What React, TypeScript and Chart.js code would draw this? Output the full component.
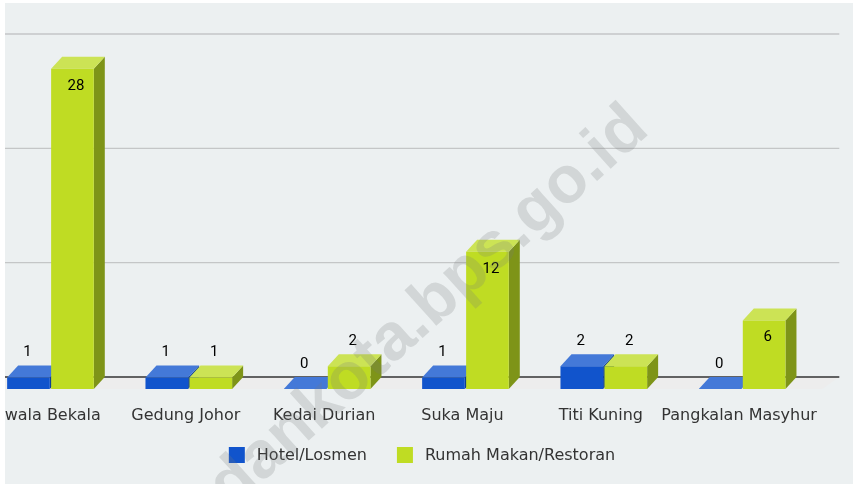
import React, { useEffect, useRef } from "react";
import { Chart, registerables } from "chart.js";

Chart.register(...registerables);

// ---- data ----
const CATEGORIES = [
  "Kwala Bekala",
  "Gedung Johor",
  "Kedai Durian",
  "Suka Maju",
  "Titi Kuning",
  "Pangkalan Masyhur",
];
const SERIES_NAMES = ["Hotel/Losmen", "Rumah Makan/Restoran"];
const HOTEL_LOSMEN = [1, 1, 0, 1, 2, 0];
const RUMAH_MAKAN = [28, 1, 2, 12, 2, 6];
const Y_TICKS = [0, 10, 20, 30];
const WATERMARK = "medankota.bps.go.id";

// ---- style ----
const FACE_COLORS = [
  { front: "#1154cc", top: "#4479d8", side: "#0c3d94" },
  { front: "#bfdc23", top: "#cce355", side: "#7e9418" },
];
const DX = 11; // depth offset x
const DY = -12; // depth offset y
const CANVAS_W = 898;
const CANVAS_H = 485;
const INSIDE_MIN = 5; // labels of taller bars sit inside the bar

const threeD = {
  id: "threeD",
  beforeDatasetsDraw(chart: any) {
    const { ctx, chartArea, scales } = chart;
    const y = scales.y;
    const base = y.getPixelForValue(0);
    ctx.save();
    // floor
    ctx.fillStyle = "#ededed";
    ctx.beginPath();
    ctx.moveTo(0, base);
    ctx.lineTo(chartArea.right + DX, base);
    ctx.lineTo(chartArea.right + DX + 17, base + DY);
    ctx.lineTo(0, base + DY);
    ctx.closePath();
    ctx.fill();
    // grid lines on back wall
    ctx.strokeStyle = "#c4c6c7";
    ctx.lineWidth = 1.4;
    Y_TICKS.forEach((t) => {
      if (t === 0) return;
      const py = y.getPixelForValue(t) + DY;
      ctx.beginPath();
      ctx.moveTo(0, py);
      ctx.lineTo(chartArea.right + DX + 17, py);
      ctx.stroke();
    });
    // base line
    ctx.strokeStyle = "#333333";
    ctx.lineWidth = 1.3;
    ctx.beginPath();
    ctx.moveTo(0, base + DY);
    ctx.lineTo(chartArea.right + DX + 17, base + DY);
    ctx.stroke();

    // side and top faces
    const metas = chart.data.datasets.map((_: any, i: number) => chart.getDatasetMeta(i));
    const n = chart.data.labels.length;
    for (let i = 0; i < n; i++) {
      metas.forEach((meta: any, di: number) => {
        const el = meta.data[i];
        const p = el.getProps(["x", "y", "base", "width"], true);
        const l = p.x - p.width / 2;
        const r = p.x + p.width / 2;
        const c = FACE_COLORS[di];
        // side
        ctx.fillStyle = c.side;
        ctx.beginPath();
        ctx.moveTo(r, p.y);
        ctx.lineTo(r + DX, p.y + DY);
        ctx.lineTo(r + DX, p.base + DY);
        ctx.lineTo(r, p.base);
        ctx.closePath();
        ctx.fill();
        // top
        ctx.fillStyle = c.top;
        ctx.beginPath();
        ctx.moveTo(l, p.y);
        ctx.lineTo(r, p.y);
        ctx.lineTo(r + DX, p.y + DY);
        ctx.lineTo(l + DX, p.y + DY);
        ctx.closePath();
        ctx.fill();
      });
    }
    ctx.restore();
  },
  afterDatasetsDraw(chart: any) {
    const { ctx, chartArea, scales } = chart;
    ctx.save();
    // data labels
    ctx.font = "15px Roboto";
    ctx.fillStyle = "#000000";
    ctx.textAlign = "center";
    ctx.textBaseline = "middle";
    chart.data.datasets.forEach((ds: any, di: number) => {
      const meta = chart.getDatasetMeta(di);
      meta.data.forEach((el: any, i: number) => {
        const v = ds.data[i];
        const p = el.getProps(["x", "y"], true);
        const lx = p.x + (di === 0 ? -1 : 3.5);
        const ly = v >= INSIDE_MIN ? p.y + 17 : p.y - 25;
        ctx.fillText(String(v), lx, ly);
      });
    });
    // category labels
    ctx.font = "16px 'DejaVu Sans'";
    ctx.fillStyle = "#333333";
    CATEGORIES.forEach((c, i) => {
      ctx.fillText(c, scales.x.getPixelForValue(i) - 3, chartArea.bottom + 26.5);
    });
    // legend
    ctx.font = "16px 'DejaVu Sans'";
    ctx.textAlign = "left";
    const box = 16;
    const gapText = 12;
    const gapItem = 30;
    const widths = SERIES_NAMES.map((s) => box + gapText + ctx.measureText(s).width);
    const total = widths.reduce((a, b) => a + b, 0) + gapItem * (widths.length - 1);
    let lx = 462 - total / 2;
    const top = 447;
    SERIES_NAMES.forEach((s, i) => {
      ctx.fillStyle = FACE_COLORS[i].front;
      ctx.fillRect(lx, top, box, box);
      ctx.fillStyle = "#333333";
      ctx.fillText(s, lx + box + gapText, top + 8.5);
      lx += widths[i] + gapItem;
    });
    ctx.restore();
  },
  afterDraw(chart: any) {
    const { ctx } = chart;
    ctx.save();
    ctx.font = "bold 66px 'Liberation Sans'";
    ctx.fillStyle = "rgba(120,122,124,0.22)";
    ctx.textBaseline = "alphabetic";
    ctx.textAlign = "left";
    ctx.translate(567, 244);
    ctx.rotate((-42 * Math.PI) / 180);
    const off = ctx.measureText("medankota.bps").width + ctx.measureText(".").width / 2;
    ctx.fillText(WATERMARK, -off, 0);
    ctx.restore();
  },
};

export default function App() {
  const ref = useRef<HTMLCanvasElement>(null);
  useEffect(() => {
    document.body.style.margin = "0";
    const canvas = ref.current!;
    const chart = new Chart(canvas, {
      type: "bar",
      data: {
        labels: CATEGORIES,
        datasets: [
          {
            label: SERIES_NAMES[0],
            data: HOTEL_LOSMEN,
            backgroundColor: FACE_COLORS[0].front,
            borderWidth: 0,
          },
          {
            label: SERIES_NAMES[1],
            data: RUMAH_MAKAN,
            backgroundColor: FACE_COLORS[1].front,
            borderWidth: 0,
          },
        ],
      },
      options: {
        animation: false,
        responsive: false,
        devicePixelRatio: 1,
        layout: { padding: { left: 21.3, right: 46.7, top: 46, bottom: 96 } },
        datasets: { bar: { barPercentage: 0.97, categoryPercentage: 0.636 } },
        scales: {
          x: { display: false },
          y: { display: false, min: 0, max: 30 },
        },
        plugins: {
          legend: { display: false },
          tooltip: { enabled: false },
          title: { display: false },
        },
      },
      plugins: [threeD],
    } as any);
    return () => chart.destroy();
  }, []);
  return (
    <div
      style={{
        position: "fixed",
        left: 5,
        top: 3,
        width: 848,
        height: 481,
        overflow: "hidden",
        background: "#ecf0f1",
      }}
    >
      <canvas
        ref={ref}
        width={CANVAS_W}
        height={CANVAS_H}
        style={{ position: "absolute", left: -45, top: -3, width: CANVAS_W, height: CANVAS_H }}
      />
    </div>
  );
}
